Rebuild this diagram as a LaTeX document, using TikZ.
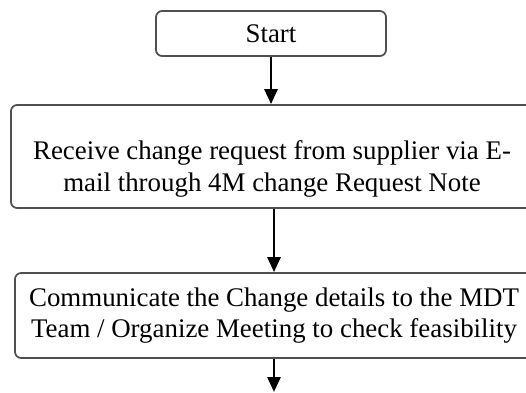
\documentclass[tikz,border=0pt]{standalone}
\usepackage{fontspec}
\setmainfont{Liberation Serif}
\usepackage{tikz}
\usetikzlibrary{positioning,shapes,arrows.meta,calc}
\definecolor{boxgrey}{RGB}{80, 80, 80}
% pads a line on the right, so the text sits left of the box centre
\newcommand{\padright}[1]{\makebox[#1]{}}

\begin{document}
\begin{tikzpicture}[node distance=3cm,
activity/.style ={rectangle, draw=boxgrey, line width=1pt, rounded corners=3.5pt, text centered, align=center, fill=white, font=\fontsize{15.3}{18}\selectfont, inner sep=0pt},
flow/.style ={-{Triangle[width=0.26cm,length=0.3cm]}, line width=1.6pt},
]

\useasboundingbox (0,0) rectangle (10.52,-7.84);

\node (START) [activity, minimum width=4.6cm, minimum height=0.9cm] at (5.42,-0.67) {Start};
\node (RECV) [activity, below of=START, node distance=2.46cm, xshift=0.2cm, minimum width=10.8cm, minimum height=2.06cm] {\rule{0pt}{0.88cm}Receive change request from supplier via E-\padright{0.36cm}\\mail through 4M change Request Note\padright{0.36cm}};
\node (COMM) [activity, below of=RECV, node distance=3.18cm, xshift=0.08cm, minimum width=10.8cm, minimum height=1.7cm] {Communicate the Change details to the MDT\padright{0.44cm}\\Team / Organize Meeting to check feasibility\padright{0.44cm}};

% arrow line, a bit right of the Start centre
\coordinate (MID) at ($(START.south)+(0.06,0)$);
\coordinate (NEXT) at (MID |- 0,-7.84);

\draw[flow] (START.south) -- (START.south |- RECV.north);
\draw[flow] (MID |- RECV.south) -- (MID |- COMM.north);
\draw[flow] (MID |- COMM.south) -- (NEXT);

\end{tikzpicture}
\end{document}
